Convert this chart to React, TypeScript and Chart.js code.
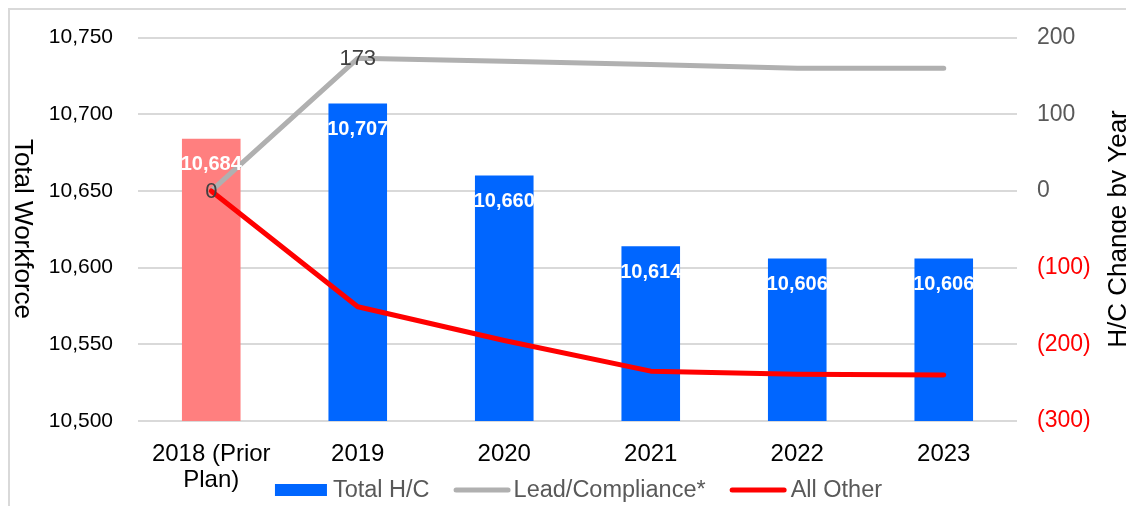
import React, { useEffect, useRef } from 'react';
import { Chart, registerables } from 'chart.js';

Chart.register(...registerables);

const categories: (string | string[])[] = [['2018 (Prior', 'Plan)'], '2019', '2020', '2021', '2022', '2023'];
const totalHC = [10684, 10707, 10660, 10614, 10606, 10606];
const leadCompliance = [0, 173, 169, 165, 160, 160];
const allOther = [0, -151, -195, -235, -239, -240];
const barColors = ['#ff7f7f', '#0066ff', '#0066ff', '#0066ff', '#0066ff', '#0066ff'];
const leftAxis = { min: 10500, max: 10750, step: 50 };
const rightAxis = { min: -300, max: 200, step: 100 };
const leadLabelIndices = [0, 1];
const seriesNames = ['Total H/C', 'Lead/Compliance*', 'All Other'];
const titles = { left: 'Total Workforce', right: 'H/C Change by Year' };

const FONT = "'Liberation Sans', Arial, sans-serif";

const decorPlugin = {
  id: 'decor',
  beforeDraw(chart: any) {
    const ctx = chart.ctx;
    ctx.save();
    ctx.fillStyle = '#ffffff';
    ctx.fillRect(0, 0, chart.width, chart.height);
    ctx.strokeStyle = '#d9d9d9';
    ctx.lineWidth = 2;
    ctx.strokeRect(9, 9, 2000, 2000);
    ctx.restore();
  },
  afterDatasetsDraw(chart: any) {
    const ctx = chart.ctx;
    ctx.save();
    const barMeta = chart.getDatasetMeta(0);
    ctx.font = `bold 20px ${FONT}`;
    ctx.fillStyle = '#ffffff';
    ctx.textAlign = 'center';
    ctx.textBaseline = 'middle';
    barMeta.data.forEach((el: any, i: number) => {
      ctx.fillText(totalHC[i].toLocaleString('en-US'), el.x, el.y + 26);
    });
    const leadMeta = chart.getDatasetMeta(1);
    ctx.font = `22px ${FONT}`;
    ctx.fillStyle = '#404040';
    leadLabelIndices.forEach((i) => {
      const el = leadMeta.data[i];
      ctx.fillText(String(leadCompliance[i]), el.x, el.y + 1);
    });
    ctx.restore();
  },
  afterDraw(chart: any) {
    const ctx = chart.ctx;
    const area = chart.chartArea;
    ctx.save();
    ctx.fillStyle = '#000000';
    ctx.font = `26px ${FONT}`;
    ctx.textAlign = 'center';
    ctx.textBaseline = 'alphabetic';
    ctx.save();
    ctx.translate(15, 229);
    ctx.rotate(Math.PI / 2);
    ctx.fillText(titles.left, 0, 0);
    ctx.restore();
    ctx.save();
    ctx.translate(1126, 229);
    ctx.rotate(-Math.PI / 2);
    ctx.fillText(titles.right, 0, 0);
    ctx.restore();

    ctx.font = `23.5px ${FONT}`;
    const items = [
      { kind: 'box', color: '#0066ff', w: 52, gap: 6, text: seriesNames[0] },
      { kind: 'line', color: '#b0b0b0', w: 57, gap: 3, text: seriesNames[1] },
      { kind: 'line', color: '#ff0000', w: 57, gap: 4, text: seriesNames[2] },
    ];
    const spacing = 24;
    let total = 0;
    items.forEach((it, i) => {
      total += it.w + it.gap + ctx.measureText(it.text).width + (i < items.length - 1 ? spacing : 0);
    });
    let x = (area.left + area.right) / 2 + 1 - total / 2;
    const cy = 490;
    items.forEach((it) => {
      if (it.kind === 'box') {
        ctx.fillStyle = it.color;
        ctx.fillRect(x, cy - 6, it.w, 12);
      } else {
        ctx.strokeStyle = it.color;
        ctx.lineWidth = 5;
        ctx.lineCap = 'round';
        ctx.beginPath();
        ctx.moveTo(x + 2.5, cy);
        ctx.lineTo(x + it.w - 2.5, cy);
        ctx.stroke();
      }
      x += it.w + it.gap;
      ctx.fillStyle = '#595959';
      ctx.textAlign = 'left';
      ctx.textBaseline = 'middle';
      ctx.fillText(it.text, x, cy + 1);
      x += ctx.measureText(it.text).width + spacing;
    });
    ctx.restore();
  },
};

export default function App() {
  const canvasRef = useRef<HTMLCanvasElement | null>(null);

  useEffect(() => {
    if (!canvasRef.current) return;
    const chart = new Chart(canvasRef.current, {
      data: {
        labels: categories as any,
        datasets: [
          {
            type: 'bar',
            label: seriesNames[0],
            data: totalHC,
            yAxisID: 'y',
            backgroundColor: barColors,
            barPercentage: 0.4,
            categoryPercentage: 1,
            order: 3,
          } as any,
          {
            type: 'line',
            label: seriesNames[1],
            data: leadCompliance,
            yAxisID: 'y1',
            borderColor: '#b0b0b0',
            borderWidth: 5,
            pointRadius: 0,
            borderCapStyle: 'round',
            borderJoinStyle: 'round',
            tension: 0,
            order: 2,
          } as any,
          {
            type: 'line',
            label: seriesNames[2],
            data: allOther,
            yAxisID: 'y1',
            borderColor: '#ff0000',
            borderWidth: 5,
            pointRadius: 0,
            borderCapStyle: 'round',
            borderJoinStyle: 'round',
            tension: 0,
            order: 1,
          } as any,
        ],
      },
      options: {
        responsive: false,
        animation: false,
        devicePixelRatio: 1,
        layout: { padding: { top: 36, left: 0, right: 0, bottom: 0 } },
        plugins: { legend: { display: false }, tooltip: { enabled: false } },
        scales: {
          x: {
            type: 'category',
            offset: true,
            grid: { display: false },
            border: { display: false },
            ticks: {
              color: '#000000',
              font: { family: FONT, size: 24, lineHeight: 1.08 },
              padding: 12,
              maxRotation: 0,
              autoSkip: false,
            },
            afterFit(scale: any) {
              scale.height = 85;
            },
          },
          y: {
            type: 'linear',
            position: 'left',
            min: leftAxis.min,
            max: leftAxis.max,
            grid: { color: '#d9d9d9', lineWidth: 2, drawTicks: false },
            border: { display: false },
            ticks: {
              stepSize: leftAxis.step,
              color: '#000000',
              font: { family: FONT, size: 21 },
              padding: 25,
              callback: (v: any) => Number(v).toLocaleString('en-US'),
            },
            afterFit(scale: any) {
              scale.width = 138;
            },
          },
          y1: {
            type: 'linear',
            position: 'right',
            min: rightAxis.min,
            max: rightAxis.max,
            grid: { drawOnChartArea: false, drawTicks: false },
            border: { display: false },
            ticks: {
              stepSize: rightAxis.step,
              color: (c: any) => (c.tick && c.tick.value < 0 ? '#ff0000' : '#595959'),
              font: { family: FONT, size: 23 },
              padding: 20,
              callback: (v: any) => (Number(v) < 0 ? `(${Math.abs(Number(v))})` : String(v)),
            },
            afterFit(scale: any) {
              scale.width = 109;
            },
          },
        },
      } as any,
      plugins: [decorPlugin],
    });
    return () => chart.destroy();
  }, []);

  return (
    <div style={{ position: 'fixed', left: 0, top: 0, width: 1126, height: 506, overflow: 'hidden' }}>
      <canvas ref={canvasRef} width={1126} height={506} style={{ display: 'block', width: 1126, height: 506 }} />
    </div>
  );
}
